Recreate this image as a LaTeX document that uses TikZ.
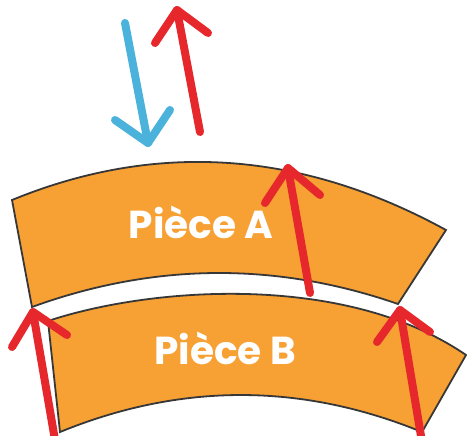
\documentclass[tikz,border=0pt]{standalone}
\usepackage{fontspec}
\newfontfamily\piecefont{Poppins}
\definecolor{pieceorange}{RGB}{247,160,52}
\definecolor{arrowred}{RGB}{230,40,45}
\definecolor{arrowblue}{RGB}{75,178,220}
\definecolor{outlinegray}{RGB}{55,55,55}
\begin{document}
\begin{tikzpicture}[x=1pt,y=-1pt,
  piece/.style={fill=pieceorange,draw=outlinegray,line width=1.8pt},
  shaft/.style={line width=8pt,line cap=round},
  head/.style={line width=8pt,line cap=round,line join=round},
  label/.style={text=white,font=\piecefont\bfseries\fontsize{39}{42}\selectfont,anchor=base,inner sep=0pt}]
\useasboundingbox (0,0) rectangle (467,436);
\fill[white] (0,0) rectangle (467,436);
% Piece B
\draw[piece] (48,321) .. controls (150,287) and (345,272) .. (466,355)
  -- (422,432)
  .. controls (301.3,382.7) and (180.7,382.7) .. (60,432)
  -- cycle;
% Piece A
\draw[piece] (12,200) .. controls (156.7,140.7) and (301.3,150.7) .. (446,230)
  -- (398,304)
  .. controls (276,261.7) and (154,262.7) .. (32,307)
  -- cycle;
\node[label] (pa) at (201,239) {Pièce A};
\node[label] (pb) at (225,364) {Pièce B};
% arrow coordinates
\coordinate (t1) at (200,132); \coordinate (p1) at (177,10); \coordinate (l1) at (155,43); \coordinate (r1) at (208,33);
\coordinate (t2) at (125,23); \coordinate (p2) at (148,143); \coordinate (l2) at (115,120); \coordinate (r2) at (170,110);
\coordinate (t3) at (310,293); \coordinate (p3) at (288,168); \coordinate (l3) at (265,203); \coordinate (r3) at (320,195);
\coordinate (t4) at (55,440); \coordinate (p4) at (33,312); \coordinate (l4) at (12,347); \coordinate (r4) at (67,335);
\coordinate (t5) at (421,436); \coordinate (p5) at (400,310); \coordinate (l5) at (377,342); \coordinate (r5) at (430,332);
% blue arrow
\draw[shaft,arrowblue] (t2) -- (p2);
\draw[head,arrowblue] (l2) -- (p2) -- (r2);
% red arrows
\foreach \i in {1,3,4,5}{
  \draw[shaft,arrowred] (t\i) -- (p\i);
  \draw[head,arrowred] (l\i) -- (p\i) -- (r\i);
}
\end{tikzpicture}
\end{document}
